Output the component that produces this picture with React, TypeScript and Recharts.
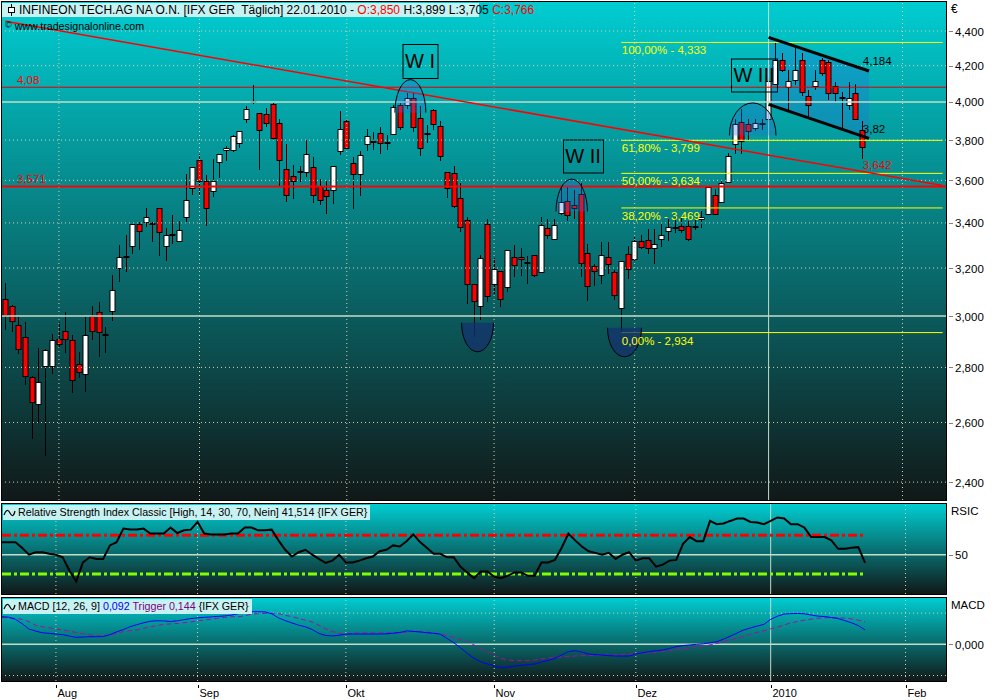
import React from 'react';
import { ComposedChart, Bar, Line, Area, XAxis, YAxis, ReferenceLine, ReferenceDot } from 'recharts';

const FONT = '"Liberation Sans", Arial, sans-serif';

// ---------- data ----------
const slotCount = 141;
const monthTicks = [8, 29, 51, 73, 94, 114, 134];
const monthLabels = ['Aug', 'Sep', 'Okt', 'Nov', 'Dez', '2010', 'Feb'];
const priceTicks = [2.4, 2.6, 2.8, 3.0, 3.2, 3.4, 3.6, 3.8, 4.0, 4.2, 4.4];
const solidPriceLines = [3.0, 4.0];

const opens = [
  3.071, 3.040, 2.963, 2.917, 2.765, 2.667, 2.806, 2.806, 2.909, 2.941,
  2.905, 2.813, 2.775, 3.000, 3.016, 2.924, 3.019, 3.198, 3.247, 3.296,
  3.393, 3.405, 3.395, 3.467, 3.296, 3.343, 3.318, 3.426, 3.565, 3.702,
  3.597, 3.547, 3.691, 3.749, 3.749, 3.786, 3.908, 3.999, 3.940, 3.935,
  3.988, 3.887, 3.655, 3.620, 3.641, 3.639, 3.666, 3.573, 3.552, 3.554,
  3.746, 3.900, 3.687, 3.632, 3.780, 3.791, 3.837, 3.784, 3.831, 3.982,
  3.981, 4.022, 3.914, 3.833, 3.956, 3.872, 3.641, 3.636, 3.518, 3.411,
  3.133, 3.039, 3.393, 3.132, 3.188, 3.121, 3.249, 3.249, 3.223, 3.258,
  3.184, 3.375, 3.329, 3.446, 3.503, 3.484, 3.533, 3.265, 3.210, 3.169,
  3.249, 3.184, 3.034, 3.260, 3.240, 3.320, 3.324, 3.289, 3.326, 3.365,
  3.375, 3.387, 3.386, 3.381, 3.420, 3.443, 3.530, 3.499, 3.590, 3.780,
  3.892, 3.883, 3.861, 3.883, 3.909, 4.098, 4.234, 4.079, 4.117, 4.232,
  4.034, 4.085, 4.232, 4.219, 4.085, 4.022, 3.984, 4.051, 3.850,
];
const highs = [
  3.135, 3.044, 2.996, 2.976, 2.769, 2.872, 2.869, 2.928, 2.976, 3.016,
  2.924, 2.860, 2.996, 3.040, 3.056, 2.957, 3.170, 3.299, 3.346, 3.393,
  3.405, 3.468, 3.405, 3.471, 3.375, 3.437, 3.409, 3.629, 3.666, 3.732,
  3.624, 3.707, 3.730, 3.771, 3.824, 3.847, 3.979, 4.092, 3.940, 3.967,
  3.993, 3.910, 3.780, 3.676, 3.672, 3.802, 3.717, 3.605, 3.597, 3.672,
  3.954, 3.909, 3.715, 3.746, 3.858, 3.842, 3.868, 3.828, 3.984, 3.995,
  4.048, 4.048, 3.976, 3.876, 3.963, 3.900, 3.641, 3.672, 3.589, 3.429,
  3.133, 3.258, 3.417, 3.245, 3.188, 3.279, 3.299, 3.288, 3.254, 3.258,
  3.426, 3.420, 3.420, 3.568, 3.568, 3.552, 3.589, 3.306, 3.219, 3.313,
  3.313, 3.191, 3.230, 3.296, 3.337, 3.343, 3.370, 3.370, 3.395, 3.417,
  3.432, 3.432, 3.409, 3.424, 3.453, 3.568, 3.557, 3.601, 3.737, 3.911,
  3.962, 3.909, 3.909, 3.909, 4.130, 4.333, 4.270, 4.175, 4.307, 4.270,
  4.065, 4.175, 4.243, 4.232, 4.110, 4.056, 4.110, 4.098, 3.899,
];
const lows = [
  2.944, 2.937, 2.850, 2.736, 2.544, 2.600, 2.485, 2.775, 2.873, 2.853,
  2.706, 2.761, 2.709, 2.905, 2.841, 2.856, 2.982, 3.142, 3.183, 3.262,
  3.277, 3.383, 3.316, 3.254, 3.229, 3.303, 3.314, 3.405, 3.530, 3.530,
  3.386, 3.521, 3.613, 3.694, 3.742, 3.758, 3.891, 3.988, 3.650, 3.866,
  3.802, 3.573, 3.495, 3.513, 3.590, 3.616, 3.491, 3.483, 3.440, 3.486,
  3.727, 3.755, 3.466, 3.525, 3.746, 3.752, 3.728, 3.752, 3.829, 3.853,
  3.963, 3.840, 3.719, 3.786, 3.853, 3.694, 3.515, 3.469, 3.357, 3.048,
  2.918, 2.983, 3.056, 3.090, 3.038, 3.100, 3.160, 3.167, 3.132, 3.160,
  3.184, 3.326, 3.326, 3.435, 3.409, 3.417, 3.160, 3.061, 3.125, 3.132,
  3.176, 3.065, 2.934, 3.154, 3.232, 3.284, 3.260, 3.219, 3.293, 3.317,
  3.355, 3.355, 3.317, 3.369, 3.375, 3.443, 3.440, 3.490, 3.587, 3.732,
  3.732, 3.802, 3.848, 3.853, 3.900, 4.098, 4.165, 3.958, 4.092, 4.034,
  3.913, 4.065, 4.140, 4.011, 3.999, 3.859, 3.958, 3.910, 3.705,
];
const closes = [
  3.005, 2.982, 2.870, 2.769, 2.674, 2.746, 2.867, 2.905, 2.889, 2.909,
  2.754, 2.782, 2.924, 2.941, 2.935, 2.924, 3.105, 3.247, 3.247, 3.393,
  3.365, 3.426, 3.395, 3.357, 3.343, 3.343, 3.369, 3.508, 3.666, 3.597,
  3.467, 3.597, 3.730, 3.759, 3.819, 3.847, 3.962, 3.999, 3.852, 3.887,
  3.809, 3.699, 3.532, 3.597, 3.641, 3.730, 3.531, 3.506, 3.525, 3.672,
  3.858, 3.759, 3.632, 3.725, 3.820, 3.791, 3.786, 3.784, 3.973, 3.868,
  4.022, 3.870, 3.762, 3.833, 3.885, 3.721, 3.565, 3.478, 3.380, 3.132,
  3.061, 3.245, 3.080, 3.197, 3.069, 3.279, 3.214, 3.240, 3.223, 3.171,
  3.389, 3.343, 3.389, 3.499, 3.437, 3.471, 3.222, 3.122, 3.188, 3.258,
  3.216, 3.087, 3.230, 3.195, 3.320, 3.293, 3.286, 3.304, 3.346, 3.380,
  3.375, 3.369, 3.326, 3.381, 3.427, 3.568, 3.443, 3.585, 3.720, 3.883,
  3.797, 3.845, 3.886, 3.883, 4.112, 4.234, 4.176, 4.115, 4.176, 4.056,
  3.984, 4.115, 4.161, 4.048, 4.048, 4.022, 4.022, 3.910, 3.766,
];
const rsiValues = [
  63, 63, 63, 57, 50, 52.6, 52.6, 50.9, 50, 47.3,
  33.4, 22.3, 42, 47.3, 45.6, 45.6, 59.6, 63, 77, 76,
  76, 77, 71.8, 71.8, 71.8, 78, 72.4, 75.2, 75.9, 83.9,
  71.8, 71, 71, 71, 71.8, 71.8, 78, 78, 75.2, 75.2,
  75.9, 64.8, 55.1, 48.1, 52.6, 55.1, 50, 45.6, 41.5, 43.9,
  49.8, 42, 42, 43.9, 46.3, 48.1, 53.6, 55.1, 59.6, 58.5,
  64, 71, 63, 57.2, 50.9, 50.9, 47.3, 47.3, 37.6, 31.7,
  25.8, 32.7, 32.7, 27.2, 25.8, 28.2, 31.7, 31.7, 28.2, 28.2,
  42, 42, 44.6, 57.2, 71.8, 64.8, 58.5, 53.6, 51.9, 50,
  51.9, 45.6, 50, 52.6, 43.9, 46.3, 46.3, 37.6, 39.7, 43.9,
  44.6, 61.3, 68.2, 64, 64, 84.9, 81.5, 82.2, 84.9, 87.4,
  87.4, 83.9, 83.3, 81.5, 84.9, 88.5, 87.4, 81.5, 81.5, 78,
  68.2, 68.2, 68.2, 64.8, 56.1, 56.1, 57.2, 57.8, 41.5,
];
const macdValues = [
  0.177, 0.174, 0.160, 0.132, 0.098, 0.085, 0.074, 0.070, 0.066, 0.062,
  0.053, 0.045, 0.047, 0.049, 0.049, 0.050, 0.062, 0.080, 0.095, 0.113,
  0.126, 0.138, 0.148, 0.151, 0.150, 0.146, 0.151, 0.158, 0.165, 0.170,
  0.173, 0.176, 0.179, 0.182, 0.187, 0.196, 0.204, 0.209, 0.209, 0.208,
  0.196, 0.170, 0.152, 0.137, 0.123, 0.112, 0.095, 0.070, 0.057, 0.054,
  0.058, 0.065, 0.066, 0.066, 0.066, 0.066, 0.066, 0.067, 0.071, 0.076,
  0.086, 0.083, 0.079, 0.074, 0.071, 0.065, 0.038, 0.010, -0.022, -0.058,
  -0.090, -0.112, -0.126, -0.137, -0.150, -0.146, -0.139, -0.135, -0.130, -0.126,
  -0.114, -0.102, -0.090, -0.068, -0.047, -0.041, -0.050, -0.062, -0.066, -0.069,
  -0.072, -0.075, -0.075, -0.075, -0.062, -0.054, -0.047, -0.041, -0.037, -0.026,
  -0.015, -0.008, -0.004, 0.000, 0.003, 0.010, 0.017, 0.033, 0.052, 0.072,
  0.092, 0.105, 0.117, 0.128, 0.160, 0.180, 0.194, 0.197, 0.198, 0.196,
  0.188, 0.181, 0.178, 0.172, 0.165, 0.152, 0.138, 0.120, 0.092,
];
const triggerValues = [
  0.172, 0.170, 0.166, 0.160, 0.145, 0.122, 0.112, 0.106, 0.098, 0.092,
  0.085, 0.076, 0.068, 0.062, 0.055, 0.054, 0.060, 0.070, 0.082, 0.088,
  0.092, 0.102, 0.113, 0.120, 0.128, 0.131, 0.134, 0.139, 0.143, 0.150,
  0.156, 0.162, 0.167, 0.172, 0.177, 0.177, 0.182, 0.194, 0.196, 0.198,
  0.198, 0.196, 0.186, 0.178, 0.166, 0.155, 0.143, 0.122, 0.100, 0.082,
  0.070, 0.066, 0.072, 0.074, 0.074, 0.074, 0.074, 0.074, 0.074, 0.074,
  0.077, 0.082, 0.082, 0.078, 0.074, 0.066, 0.056, 0.045, 0.030, 0.017,
  -0.004, -0.026, -0.048, -0.069, -0.090, -0.100, -0.105, -0.105, -0.105, -0.100,
  -0.093, -0.088, -0.085, -0.080, -0.078, -0.075, -0.073, -0.070, -0.069, -0.069,
  -0.069, -0.068, -0.065, -0.063, -0.062, -0.058, -0.054, -0.050, -0.045, -0.041,
  -0.036, -0.030, -0.026, -0.018, -0.010, -0.004, 0.006, 0.017, 0.028, 0.038,
  0.050, 0.066, 0.076, 0.087, 0.100, 0.110, 0.125, 0.137, 0.147, 0.154,
  0.162, 0.167, 0.170, 0.171, 0.171, 0.168, 0.163, 0.155, 0.144,
];

const fibAnchorSlot = 92;
const fibLevels = [4.333, 3.799, 3.634, 3.469, 2.934];
const fibNames = ['100,00%', '61,80%', '50,00%', '38,20%', '0,00%'];
const hLevels = [4.08, 3.571];
const hLabels = ['4,08', '3,571'];
const trendSlots = [0, 140];
const trendValues = [4.458, 3.575];
const channelSlots = [114, 129];
const channelUpper = [4.363, 4.170];
const channelLower = [3.987, 3.809];
const channelLabelValues = [4.184, 3.82, 3.642];
const channelLabelTexts = ['4,184', '3,82', '3,642'];
const rsiUpper = 70;
const rsiLower = 30;

// ---------- helpers ----------
const fmtPrice = (v: number) => v.toFixed(3).replace('.', ',');
const GRID = '#d8d0b0';
const SOLID = '#c4dcc8';
const PANEL_BG = 'linear-gradient(to bottom, #00cdd1 0%, #111818 100%)';
const SMALL = 10.7;

const Candle = (props: any) => {
  const { x, y, width, height, payload } = props;
  if (!payload || payload.o == null) return null;
  const { o, h, l, c } = payload;
  const lnH = Math.log(h);
  const lnL = Math.log(l);
  const py = (v: number) => (lnH === lnL ? y : y + ((lnH - Math.log(v)) / (lnH - lnL)) * height);
  const cx = Math.floor(x + width / 2) + 0.5;
  const top = Math.round(py(Math.max(o, c)));
  const bot = Math.round(py(Math.min(o, c)));
  const up = c >= o;
  return (
    <g>
      <line x1={cx} x2={cx} y1={Math.round(y)} y2={Math.round(y + height)} stroke="#000" strokeWidth={1} />
      {bot - top < 1 ? (
        <line x1={cx - 3} x2={cx + 3} y1={top} y2={top} stroke="#000" strokeWidth={2} />
      ) : (
        <rect x={cx - 2.5} y={top + 0.5} width={5} height={bot - top} fill={up ? '#ffffff' : '#ff0000'} stroke="#000" strokeWidth={1} />
      )}
    </g>
  );
};

const RightTick = (props: any) => {
  const { x, y, payload, fmt } = props;
  const ly = Math.round(y) + 0.5;
  return (
    <g>
      <line x1={x + 3} x2={x + 7} y1={ly} y2={ly} stroke="#808080" />
      <text x={x + 9} y={y + 4.5} fontSize={11.5} fontFamily={FONT} fill="#000">{fmt(payload.value)}</text>
    </g>
  );
};

const MonthTick = (props: any) => {
  const { x, y, payload } = props;
  const idx = monthTicks.indexOf(payload.value);
  const lx = Math.round(x) + 0.5;
  return (
    <g>
      <line x1={lx} x2={lx} y1={y + 4} y2={y + 7} stroke="#000" />
      <text x={lx + 1} y={y + 16} fontSize={11} fontFamily={FONT} fill="#000">{monthLabels[idx]}</text>
    </g>
  );
};

const textShape = (txt: string, color: string, dx: number, dy: number, size = 11.5) => (p: any) => (
  <text x={p.cx + dx} y={p.cy + dy} fill={color} fontSize={size} fontFamily={FONT}>{txt}</text>
);

const domeShape = (dx: number, rx: number, ry: number, up: boolean, fill: string) => (p: any) => {
  const x0 = p.cx + dx;
  const y0 = p.cy;
  const sweep = up ? 1 : 0;
  const arc = `M ${x0 - rx} ${y0} A ${rx} ${ry} 0 0 ${sweep} ${x0 + rx} ${y0}`;
  return (
    <g>
      <path d={arc + ' Z'} fill={fill} stroke="none" />
      <path d={arc} fill="none" stroke="#000" strokeWidth={1} />
    </g>
  );
};

const boxShape = (txt: string, dx: number, w: number, h: number) => (p: any) => {
  const cx = Math.round(p.cx + dx);
  const cy = Math.round(p.cy);
  return (
    <g>
      <rect x={cx - w / 2 + 0.5} y={cy - h / 2 + 0.5} width={w} height={h} fill="none" stroke="#000" strokeWidth={1} />
      <text x={cx} y={cy + 7} textAnchor="middle" fontSize={20} fontFamily={FONT} fill="#000">{txt}</text>
    </g>
  );
};

const WaveIcon = () => (
  <svg width={13} height={12} style={{ verticalAlign: 'middle', marginRight: 2 }}>
    <path d="M1 8 Q4 0 7 6 T12 4" fill="none" stroke="#000" strokeWidth={1.2} />
  </svg>
);

export default function App() {
  const rows = Array.from({ length: slotCount }, (_, i) => {
    const has = i < opens.length;
    const ci = channelSlots.indexOf(i);
    return {
      i,
      range: has ? [lows[i], highs[i]] : null,
      o: has ? opens[i] : null,
      h: has ? highs[i] : null,
      l: has ? lows[i] : null,
      c: has ? closes[i] : null,
      rsi: has ? rsiValues[i] : null,
      macd: has ? macdValues[i] : null,
      trig: has ? triggerValues[i] : null,
      chU: ci >= 0 ? channelUpper[ci] : null,
      chL: ci >= 0 ? channelLower[ci] : null,
      chR: ci >= 0 ? [channelLower[ci], channelUpper[ci]] : null,
    };
  });
  const lastSlot = opens.length - 1;

  const monthGrid = (prefix: string) =>
    monthTicks.map((t) => (
      <ReferenceLine key={prefix + 'v' + t} x={t} stroke={t === 114 ? SOLID : GRID} strokeDasharray={t === 114 ? undefined : '1 3'} />
    ));

  return (
    <div style={{ position: 'absolute', left: 0, top: 0, width: 1000, height: 700, background: '#fff', overflow: 'hidden', fontFamily: FONT }}>
      {/* panel backgrounds */}
      <div style={{ position: 'absolute', left: 1, top: 1, width: 946, height: 500, boxSizing: 'border-box', border: '1px solid #000', background: PANEL_BG }} />
      <div style={{ position: 'absolute', left: 1, top: 503, width: 946, height: 92, boxSizing: 'border-box', border: '1px solid #000', background: PANEL_BG }} />
      <div style={{ position: 'absolute', left: 1, top: 597, width: 946, height: 85, boxSizing: 'border-box', border: '1px solid #000', background: PANEL_BG }} />

      {/* main price chart */}
      <div style={{ position: 'absolute', left: 0, top: 0 }}>
        <ComposedChart width={1000} height={501} data={rows} margin={{ top: 2, right: 0, bottom: 1, left: 2 }}>
          <XAxis dataKey="i" type="category" hide />
          <YAxis
            orientation="right"
            scale="log"
            domain={[2.343, 4.575]}
            allowDataOverflow
            ticks={priceTicks}
            interval={0}
            width={54}
            axisLine={false}
            tickLine={false}
            tickSize={0}
            tickMargin={0}
            tick={<RightTick fmt={fmtPrice} />}
          />
          {priceTicks.filter((t) => !solidPriceLines.includes(t)).map((t) => (
            <ReferenceLine key={'h' + t} y={t} stroke={GRID} strokeDasharray="1 3" />
          ))}
          {monthGrid('m')}
          {solidPriceLines.map((t) => (
            <ReferenceLine key={'s' + t} y={t} stroke={SOLID} strokeWidth={1.5} />
          ))}
          <ReferenceLine y={hLevels[0]} stroke="#e00000" strokeWidth={1} />
          <ReferenceLine y={hLevels[1]} stroke="#ff0000" strokeWidth={2} />
          {fibLevels.map((v) => (
            <ReferenceLine key={'f' + v} segment={[{ x: fibAnchorSlot, y: v }, { x: 140, y: v }]} stroke="#ffff00" strokeWidth={1} />
          ))}
          <Area dataKey="chR" connectNulls stroke="none" fill="rgba(40,110,220,0.3)" fillOpacity={1} isAnimationActive={false} />
          <Bar dataKey="range" barSize={5} shape={<Candle />} isAnimationActive={false} />
          <Line dataKey="chU" connectNulls stroke="#000" strokeWidth={3} dot={false} isAnimationActive={false} />
          <Line dataKey="chL" connectNulls stroke="#000" strokeWidth={3} dot={false} isAnimationActive={false} />
          <ReferenceLine
            segment={[{ x: trendSlots[0], y: trendValues[0] }, { x: trendSlots[1], y: trendValues[1] }]}
            stroke="#ff0000"
            strokeWidth={1.5}
          />
          {/* wave domes and bowls */}
          <ReferenceDot x={61} y={3.943} r={0} shape={domeShape(-3.4, 15.5, 33, true, 'rgba(40,110,220,0.3)')} />
          <ReferenceDot x={85} y={3.452} r={0} shape={domeShape(-2.7, 15.7, 32.5, true, 'rgba(40,110,220,0.3)')} />
          <ReferenceDot x={112} y={3.824} r={0} shape={domeShape(-2.5, 23.3, 32.5, true, 'rgba(40,110,220,0.3)')} />
          <ReferenceDot x={71} y={2.973} r={0} shape={domeShape(-3.2, 16, 29, false, 'rgba(20,50,110,0.75)')} />
          <ReferenceDot x={93} y={2.953} r={0} shape={domeShape(-3.5, 17, 29, false, 'rgba(20,50,110,0.75)')} />
          {/* wave boxes */}
          <ReferenceDot x={62} y={4.226} r={0} shape={boxShape('W I', -0.9, 35, 34)} />
          <ReferenceDot x={86} y={3.722} r={0} shape={boxShape('W II', 1.9, 40, 33)} />
          <ReferenceDot x={112} y={4.145} r={0} shape={boxShape('W III', -1.2, 46, 33)} />
          {/* labels */}
          {hLevels.map((v, k) => (
            <ReferenceDot key={'hl' + v} x={2} y={v} r={0} shape={textShape(hLabels[k], '#ff0000', -1.7, -3)} />
          ))}
          {fibLevels.map((v, k) => (
            <ReferenceDot key={'fl' + v} x={fibAnchorSlot} y={v} r={0} shape={textShape(`${fibNames[k]} - ${fmtPrice(v)}`, '#ffff00', 0.5, 12)} />
          ))}
          {channelLabelValues.map((v, k) => (
            <ReferenceDot key={'cl' + v} x={lastSlot} y={v} r={0} shape={textShape(channelLabelTexts[k], k === 2 ? '#ff0000' : '#000', 0.5, -3)} />
          ))}
        </ComposedChart>
      </div>

      {/* RSI chart */}
      <div style={{ position: 'absolute', left: 0, top: 503 }}>
        <ComposedChart width={1000} height={92} data={rows} margin={{ top: 1, right: 0, bottom: 1, left: 2 }}>
          <XAxis dataKey="i" type="category" hide />
          <YAxis
            orientation="right"
            domain={[9.4, 102.4]}
            allowDataOverflow
            ticks={[50]}
            width={54}
            axisLine={false}
            tickLine={false}
            tickSize={0}
            tickMargin={0}
            tick={<RightTick fmt={(v: number) => String(v)} />}
          />
          {monthGrid('r')}
          <ReferenceLine y={50} stroke={SOLID} strokeWidth={1.5} />
          <ReferenceLine segment={[{ x: 0, y: rsiUpper }, { x: lastSlot, y: rsiUpper }]} stroke="#ff0000" strokeWidth={3} strokeDasharray="9 3 3 3" />
          <ReferenceLine segment={[{ x: 0, y: rsiLower }, { x: lastSlot, y: rsiLower }]} stroke="#80ff00" strokeWidth={3} strokeDasharray="9 3 3 3" />
          <Line dataKey="rsi" stroke="#000" strokeWidth={2} dot={false} isAnimationActive={false} />
        </ComposedChart>
      </div>

      {/* MACD chart */}
      <div style={{ position: 'absolute', left: 0, top: 597 }}>
        <ComposedChart width={1000} height={103} data={rows} margin={{ top: 1, right: 0, bottom: 0, left: 2 }}>
          <XAxis
            dataKey="i"
            type="category"
            ticks={monthTicks}
            interval={0}
            height={19}
            axisLine={false}
            tickLine={false}
            tickSize={0}
            tickMargin={0}
            tick={<MonthTick />}
          />
          <YAxis
            orientation="right"
            domain={[-0.235, 0.297]}
            allowDataOverflow
            ticks={[0]}
            width={54}
            axisLine={false}
            tickLine={false}
            tickSize={0}
            tickMargin={0}
            tick={<RightTick fmt={(v: number) => v.toFixed(3).replace('.', ',')} />}
          />
          {monthGrid('d')}
          <ReferenceLine y={0.2} stroke={GRID} strokeDasharray="1 3" />
          <ReferenceLine y={-0.2} stroke={GRID} strokeDasharray="1 3" />
          <ReferenceLine y={0} stroke={SOLID} strokeWidth={1.5} />
          <Line dataKey="trig" stroke="#a010a0" strokeWidth={1} strokeDasharray="5 3" dot={false} isAnimationActive={false} />
          <Line dataKey="macd" stroke="#0000ff" strokeWidth={1} dot={false} isAnimationActive={false} />
        </ComposedChart>
      </div>

      {/* header texts */}
      <div style={{ position: 'absolute', left: 2, top: 3, width: 477, height: 14, background: '#c8f2f2', fontSize: 12, lineHeight: '14px', whiteSpace: 'pre', color: '#000' }}>
        <svg width={12} height={14} style={{ position: 'absolute', left: 4, top: 0 }}>
          <line x1={5.5} x2={5.5} y1={1} y2={13} stroke="#000" />
          <rect x={2.5} y={4.5} width={6} height={5} fill="#fff" stroke="#000" />
        </svg>
        <span style={{ position: 'absolute', left: 17, top: 0 }}>
          {'INFINEON TECH.AG NA O.N. [IFX GER  Täglich] 22.01.2010 - '}
          <span style={{ color: '#ff0000' }}>O:3,850</span>
          {' H:3,899 L:3,705 '}
          <span style={{ color: '#ff0000' }}>C:3,766</span>
        </span>
      </div>
      <div style={{ position: 'absolute', left: 5, top: 19, fontSize: SMALL, lineHeight: '14px', color: '#000', whiteSpace: 'pre' }}>
        <span style={{ fontSize: 9, position: 'relative', top: -2 }}>©</span>
        <span style={{ marginLeft: 3 }}>www.tradesignalonline.com</span>
      </div>
      <div style={{ position: 'absolute', left: 951, top: 2, fontSize: 12, color: '#000' }}>€</div>
      <div style={{ position: 'absolute', left: 951, top: 505, fontSize: 11.5, color: '#000' }}>RSIC</div>
      <div style={{ position: 'absolute', left: 951, top: 599, fontSize: 11.5, color: '#000' }}>MACD</div>

      <div style={{ position: 'absolute', left: 3, top: 505, height: 15, paddingRight: 3, background: '#c8f2f2', fontSize: SMALL, lineHeight: '15px', whiteSpace: 'pre', color: '#000' }}>
        <WaveIcon />
        {'Relative Strength Index Classic [High, 14, 30, 70, Nein] 41,514 {IFX GER}'}
      </div>
      <div style={{ position: 'absolute', left: 3, top: 599, height: 15, paddingRight: 3, background: '#c8f2f2', fontSize: SMALL, lineHeight: '15px', whiteSpace: 'pre', color: '#000' }}>
        <WaveIcon />
        {'MACD [12, 26, 9] '}
        <span style={{ color: '#0000ff' }}>0,092</span>
        <span style={{ color: '#800080' }}>{' Trigger 0,144'}</span>
        {' {IFX GER}'}
      </div>
    </div>
  );
}
